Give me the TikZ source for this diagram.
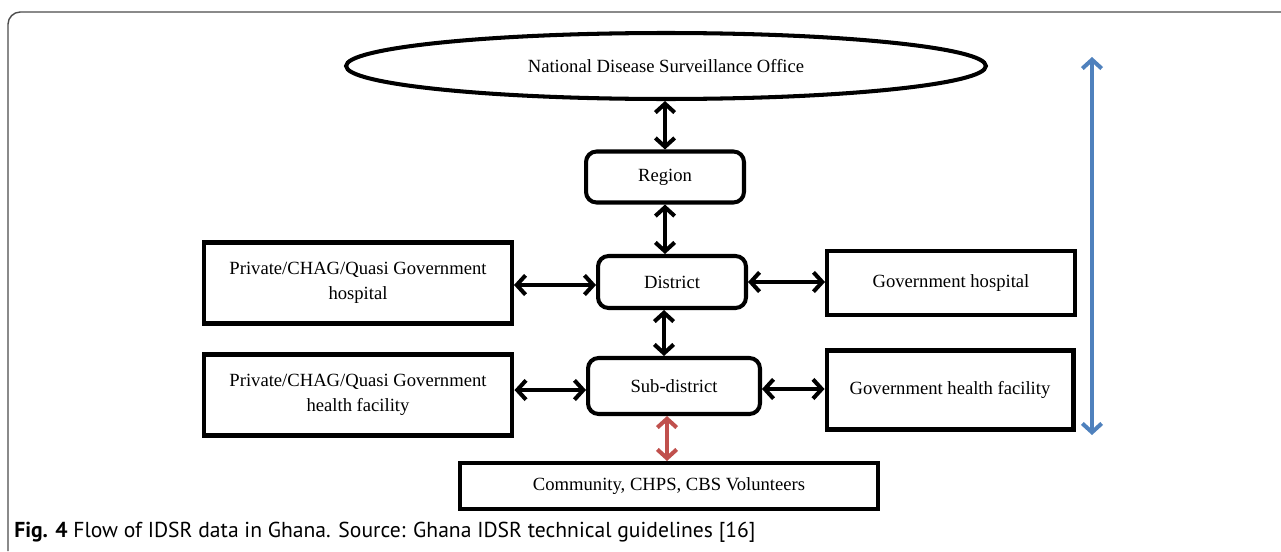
\documentclass[tikz,border=0pt]{standalone}
\usepackage{fontspec}
\setmainfont{Liberation Serif}
\newfontfamily\capfont{PT Sans}
\usetikzlibrary{shapes.geometric,arrows.meta}
\definecolor{flowblue}{HTML}{4F81BD}
\definecolor{flowred}{HTML}{C0504D}
\begin{document}
\begin{tikzpicture}[x=0.02cm,y=-0.02cm,
    box/.style={draw, line width=2.3pt, inner sep=0pt, align=center, font=\fontsize{10.6}{14}\selectfont},
    level/.style={box, rounded corners=6pt},
    link/.style={line width=2.3pt, {Straight Barb[length=5pt,width=11pt]}-{Straight Barb[length=5pt,width=11pt]}}
]
    % Fix the page size
    \useasboundingbox (0,0) rectangle (1281,551);

    % Frame of the figure
    \draw[black!70, line width=0.8pt, rounded corners=7pt] (8,551) -- (8,12) -- (1281,12);

    % Central chain of levels
    \node[box, ellipse, minimum width=12.8cm, minimum height=1.32cm] (nat) at (666,66) {National Disease Surveillance Office};
    \node[level, minimum width=3.16cm, minimum height=1.02cm] (region) at (665,177) {Region};
    \node[level, minimum width=2.96cm, minimum height=1.04cm] (district) at (672,282) {District};
    \node[level, minimum width=3.44cm, minimum height=1.12cm] (sub) at (674,386) {Sub-district};
    \node[box, minimum width=8.38cm, minimum height=0.92cm] (comm) at (669,486) {Community, CHPS, CBS Volunteers};

    % Facilities on the left
    \node[box, minimum width=6.16cm, minimum height=1.62cm] (privh) at (358,283) {Private/CHAG/Quasi Government\\hospital};
    \node[box, minimum width=6.18cm, minimum height=1.62cm] (privf) at (358,395) {Private/CHAG/Quasi Government\\health facility};

    % Facilities on the right
    \node[box, minimum width=4.96cm, minimum height=1.28cm] (govh) at (951,283) {Government hospital};
    \node[box, minimum width=4.94cm, minimum height=1.58cm] (govf) at (950,390) {Government health facility};

    % Links between levels
    \draw[link] (region.north) -- (region.north |- nat.south);
    \draw[link] (region.south) -- (region.south |- district.north);
    \draw[link] (district.south -| 664,0) -- (sub.north -| 664,0);
    \draw[link, flowred] (sub.south -| 667,0) -- (comm.north -| 667,0);

    % Links to the facilities
    \draw[link] (district.west |- 0,285) -- (privh.east |- 0,285);
    \draw[link] (district.east) -- (district.east -| govh.west);
    \draw[link] (sub.west |- 0,390) -- (privf.east |- 0,390);
    \draw[link] (sub.east |- 0,389) -- (govf.west |- 0,389);

    % Direction of the whole flow
    \coordinate (top) at (1092,57);
    \coordinate (bottom) at (1092,435);
    \draw[link, flowblue] (top) -- (bottom);

    % Caption
    \node[anchor=west, inner sep=0pt, font=\capfont\fontsize{12.3}{14}\selectfont] (cap) at (14,532)
        {\textbf{Fig. 4} Flow of IDSR data in Ghana. Source: Ghana IDSR technical guidelines [16]};
\end{tikzpicture}
\end{document}
